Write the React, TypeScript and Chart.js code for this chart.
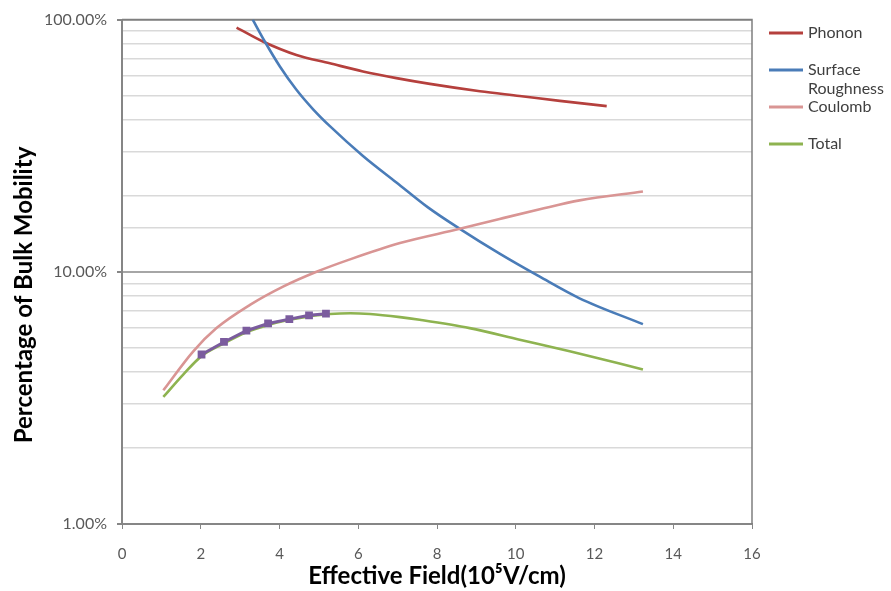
import React, { useEffect, useRef } from "react";
import { Chart, registerables } from "chart.js";

Chart.register(...registerables);

// ---- data (percent of bulk mobility vs effective field, 10^5 V/cm) ----
const xTickValues = [0, 2, 4, 6, 8, 10, 12, 14, 16];
const yTickLabels = ["1.00%", "10.00%", "100.00%"];

const phononX = [2.91, 3.59, 4.43, 5.28, 6.12, 6.97, 7.82, 9.09, 10.1, 11.12, 12.31];
const phononY = [93.0, 81.7, 72.4, 67.1, 62.3, 58.6, 55.6, 52.0, 49.8, 47.6, 45.4];

const surfaceX = [3.32, 3.63, 4.01, 4.43, 4.86, 5.28, 6.12, 6.97, 7.77, 8.58, 9.59, 10.61, 11.62, 13.23];
const surfaceY = [100, 81.7, 65.2, 52.7, 44.0, 37.8, 28.8, 22.6, 18.0, 14.8, 11.8, 9.56, 7.85, 6.2];

const coulombX = [1.05, 1.81, 2.4, 3.25, 4.09, 4.94, 5.79, 7.06, 8.58, 9.59, 10.61, 11.62, 13.23];
const coulombY = [3.39, 4.84, 5.98, 7.39, 8.73, 10.0, 11.2, 13.0, 14.8, 16.2, 17.7, 19.2, 20.8];

const totalX = [1.05, 1.56, 2.02, 2.59, 3.16, 3.71, 4.25, 4.75, 5.28, 5.8, 6.3, 7.06, 7.56, 8.83, 10.1, 11.37, 13.23];
const totalY = [3.19, 3.92, 4.63, 5.2, 5.75, 6.15, 6.45, 6.65, 6.8, 6.85, 6.8, 6.61, 6.45, 5.98, 5.38, 4.84, 4.1];

const measuredX = [2.02, 2.59, 3.16, 3.71, 4.25, 4.75, 5.18];
const measuredY = [4.7, 5.27, 5.84, 6.24, 6.49, 6.72, 6.82];

const seriesLabels = ["Phonon", "Surface Roughness", "Coulomb", "Total"];
const yTitle = "Percentage of Bulk Mobility";
const xTitle = "Effective Field(10⁵V/cm)";

const pts = (xs: number[], ys: number[]) => xs.map((x, i) => ({ x, y: ys[i] }));

const isMajor = (v: number) => {
  const l = Math.log10(v);
  return Math.abs(l - Math.round(l)) < 1e-9;
};

const FONT = "Lato, 'Open Sans', sans-serif";

const legendPlugin = {
  id: "customLegend",
  afterDraw(chart: any) {
    const ctx = chart.ctx;
    const x0 = 769;
    const lineLen = 34;
    const textX = 808;
    const maxW = 891 - textX - 2;
    let y = 33;
    ctx.save();
    ctx.font = `16px ${FONT}`;
    ctx.textBaseline = "middle";
    ctx.textAlign = "left";
    chart.data.datasets.forEach((ds: any) => {
      if (!seriesLabels.includes(ds.label)) return;
      ctx.strokeStyle = ds.borderColor;
      ctx.lineWidth = 3;
      ctx.beginPath();
      ctx.moveTo(x0, y);
      ctx.lineTo(x0 + lineLen, y);
      ctx.stroke();
      const words = String(ds.label).split(" ");
      const lines: string[] = [];
      let cur = "";
      words.forEach((w) => {
        const test = cur ? cur + " " + w : w;
        if (ctx.measureText(test).width > maxW && cur) {
          lines.push(cur);
          cur = w;
        } else cur = test;
      });
      if (cur) lines.push(cur);
      ctx.fillStyle = "#404040";
      lines.forEach((ln, i) => ctx.fillText(ln, textX, y + i * 19));
      y += 37;
    });
    ctx.restore();
  },
};

const yTitlePlugin = {
  id: "yTitle",
  afterDraw(chart: any) {
    const ctx = chart.ctx;
    ctx.save();
    ctx.translate(24, 295);
    ctx.rotate(-Math.PI / 2);
    ctx.font = `bold 24px ${FONT}`;
    ctx.fillStyle = "#000000";
    ctx.textAlign = "center";
    ctx.textBaseline = "middle";
    ctx.fillText(yTitle, 0, 0);
    ctx.restore();
  },
};

const framePlugin = {
  id: "frame",
  beforeDatasetsDraw(chart: any) {
    const { ctx, chartArea } = chart;
    ctx.save();
    ctx.strokeStyle = "#7f7f7f";
    ctx.lineWidth = 1.5;
    ctx.beginPath();
    ctx.moveTo(chartArea.left, chartArea.top);
    ctx.lineTo(chartArea.right, chartArea.top);
    ctx.lineTo(chartArea.right, chartArea.bottom);
    ctx.stroke();
    ctx.restore();
  },
};

export default function App() {
  const ref = useRef<HTMLCanvasElement | null>(null);

  useEffect(() => {
    if (!ref.current) return;
    const line = (label: string, xs: number[], ys: number[], color: string, order: number) => ({
      label,
      data: pts(xs, ys),
      borderColor: color,
      backgroundColor: color,
      borderWidth: 2.6,
      pointRadius: 0,
      cubicInterpolationMode: "monotone" as const,
      fill: false,
      order,
    });
    const chart = new Chart(ref.current, {
      type: "line",
      data: {
        datasets: [
          line(seriesLabels[0], phononX, phononY, "#B5403D", 4),
          line(seriesLabels[1], surfaceX, surfaceY, "#4A7CB8", 3),
          line(seriesLabels[2], coulombX, coulombY, "#D99594", 2),
          line(seriesLabels[3], totalX, totalY, "#8EB350", 1),
          {
            label: "Measured",
            data: pts(measuredX, measuredY),
            borderColor: "#7B5C9E",
            backgroundColor: "#7B5C9E",
            borderWidth: 3,
            pointStyle: "rect",
            pointRadius: 5.5,
            pointHoverRadius: 5.5,
            pointBorderWidth: 0,
            fill: false,
            tension: 0,
            order: 0,
          },
        ],
      },
      options: {
        animation: false,
        responsive: false,
        maintainAspectRatio: false,
        layout: { padding: { left: 0, right: 139, top: 8, bottom: 0 } },
        plugins: {
          legend: { display: false },
          tooltip: { enabled: false },
        },
        scales: {
          x: {
            type: "linear",
            min: 0,
            max: 16,
            afterBuildTicks: (scale: any) => {
              scale.ticks = xTickValues.map((v) => ({ value: v }));
            },
            ticks: {
              font: { family: FONT, size: 15 },
              color: "#595959",
              padding: 16,
              maxRotation: 0,
              autoSkip: false,
            },
            grid: {
              drawOnChartArea: false,
              drawTicks: true,
              tickLength: 5,
              tickColor: "#868686",
            },
            border: { color: "#868686", width: 2 },
            title: {
              display: true,
              text: xTitle,
              font: { family: FONT, size: 24, weight: "bold" },
              color: "#000000",
              padding: { top: 0, bottom: 0 },
            },
            afterFit: (scale: any) => {
              scale.height = 67;
            },
          },
          y: {
            type: "logarithmic",
            min: 1,
            max: 100,
            ticks: {
              autoSkip: false,
              font: { family: FONT, size: 16 },
              color: "#595959",
              padding: 10,
              callback: (v: any) => {
                const n = Number(v);
                if (!isMajor(n)) return "";
                const idx = Math.round(Math.log10(n));
                return yTickLabels[idx];
              },
            },
            grid: {
              color: (c: any) => (c.tick && isMajor(c.tick.value) ? "#A6A6A6" : "#D9D9D9"),
              lineWidth: (c: any) => (c.tick && isMajor(c.tick.value) ? 2 : 1.5),
              tickColor: (c: any) => (c.tick && isMajor(c.tick.value) ? "#868686" : "rgba(0,0,0,0)"),
              tickLength: 5,
            },
            border: { color: "#868686", width: 2 },
            title: { display: false, text: yTitle },
            afterFit: (scale: any) => {
              scale.width = 122;
            },
          },
        },
      },
      plugins: [framePlugin, legendPlugin, yTitlePlugin],
    });
    return () => chart.destroy();
  }, []);

  return (
    <div style={{ position: "fixed", left: 0, top: 0, width: 891, height: 591, background: "#ffffff" }}>
      <canvas ref={ref} width={891} height={591} style={{ display: "block", width: 891, height: 591 }} />
    </div>
  );
}
